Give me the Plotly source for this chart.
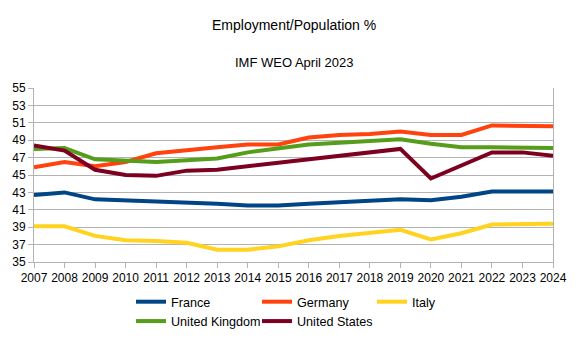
import plotly.graph_objects as go

years = list(range(2007, 2025))
france = [42.7, 43.0, 42.2, 42.1, 42.0, 41.9, 41.7, 41.5, 41.5, 41.7, 41.9, 42.0, 42.2, 42.1, 42.5, 43.1, 43.1, 43.1]
germany = [45.9, 46.5, 46.0, 46.5, 47.5, 47.9, 48.2, 48.5, 48.5, 49.3, 49.6, 49.7, 50.0, 49.6, 49.6, 50.7, 50.7, 50.6]
italy = [39.1, 39.1, 38.0, 37.5, 37.4, 37.2, 36.4, 36.4, 36.8, 37.5, 38.0, 38.4, 38.7, 37.6, 38.3, 39.3, 39.3, 39.4]
uk = [48.0, 48.1, 46.8, 46.6, 46.5, 46.7, 46.9, 47.6, 48.1, 48.5, 48.7, 48.9, 49.1, 48.6, 48.2, 48.2, 48.2, 48.1]
us = [48.4, 47.8, 45.6, 45.0, 44.9, 45.5, 45.6, 46.0, 46.4, 46.9, 47.2, 47.6, 48.0, 44.6, 46.1, 47.6, 47.6, 47.2]

series = [
    ("France", france, "#004586", "legend"),
    ("Germany", germany, "#ff420e", "legend2"),
    ("Italy", italy, "#ffd320", "legend3"),
    ("United Kingdom", uk, "#579d1c", "legend"),
    ("United States", us, "#7e0021", "legend2"),
]

y_ticks = list(range(35, 56, 2))

L, R, T, B = 34, 25, 88, 78
W, H = 578, 340
pw, ph = W - L - R, H - T - B

def px_x(p):
    return (p - L) / pw

def px_y(p):
    return (H - B - p) / ph

fig = go.Figure()
for name, vals, color, lg in series:
    fig.add_trace(go.Scatter(x=years, y=vals, name=name, mode="lines",
                             line=dict(color=color, width=4), legend=lg))

font = "Liberation Sans, Arial, sans-serif"
leg_common = dict(orientation="v", xanchor="left", yanchor="top", y=px_y(287),
                  font=dict(size=12.6, family=font, color="black"),
                  itemwidth=30, bgcolor="rgba(0,0,0,0)", tracegroupgap=0)
fig.update_layout(
    width=W, height=H,
    margin=dict(l=L, r=R, t=T, b=B, autoexpand=False),
    paper_bgcolor="white", plot_bgcolor="white",
    font=dict(family=font, size=12, color="black"),
    annotations=[
        dict(text="Employment/Population %", x=0.5, y=px_y(25), xref="paper", yref="paper",
             yanchor="middle", showarrow=False, font=dict(size=14, family=font)),
        dict(text="IMF WEO April 2023", x=0.5, y=px_y(62), xref="paper", yref="paper",
             yanchor="middle", showarrow=False, font=dict(size=13, family=font)),
    ],
    showlegend=True,
    legend=dict(x=px_x(131), **leg_common),
    legend2=dict(x=px_x(257), **leg_common),
    legend3=dict(x=px_x(372), **leg_common),
    xaxis=dict(range=[2007, 2024], tickmode="array", tickvals=years,
               ticktext=[str(y) for y in years], showgrid=False,
               showline=True, linecolor="#b3b3b3", linewidth=1,
               ticks="outside", ticklen=5, tickcolor="#b3b3b3",
               tickfont=dict(size=12), zeroline=False),
    yaxis=dict(range=[35, 55], tickmode="array", tickvals=y_ticks,
               showgrid=True, gridcolor="#b3b3b3", gridwidth=1,
               showline=True, linecolor="#b3b3b3", linewidth=1, mirror=True,
               ticks="outside", ticklen=5, tickcolor="#b3b3b3",
               tickfont=dict(size=12), zeroline=False),
)
fig.write_html("out.html")
